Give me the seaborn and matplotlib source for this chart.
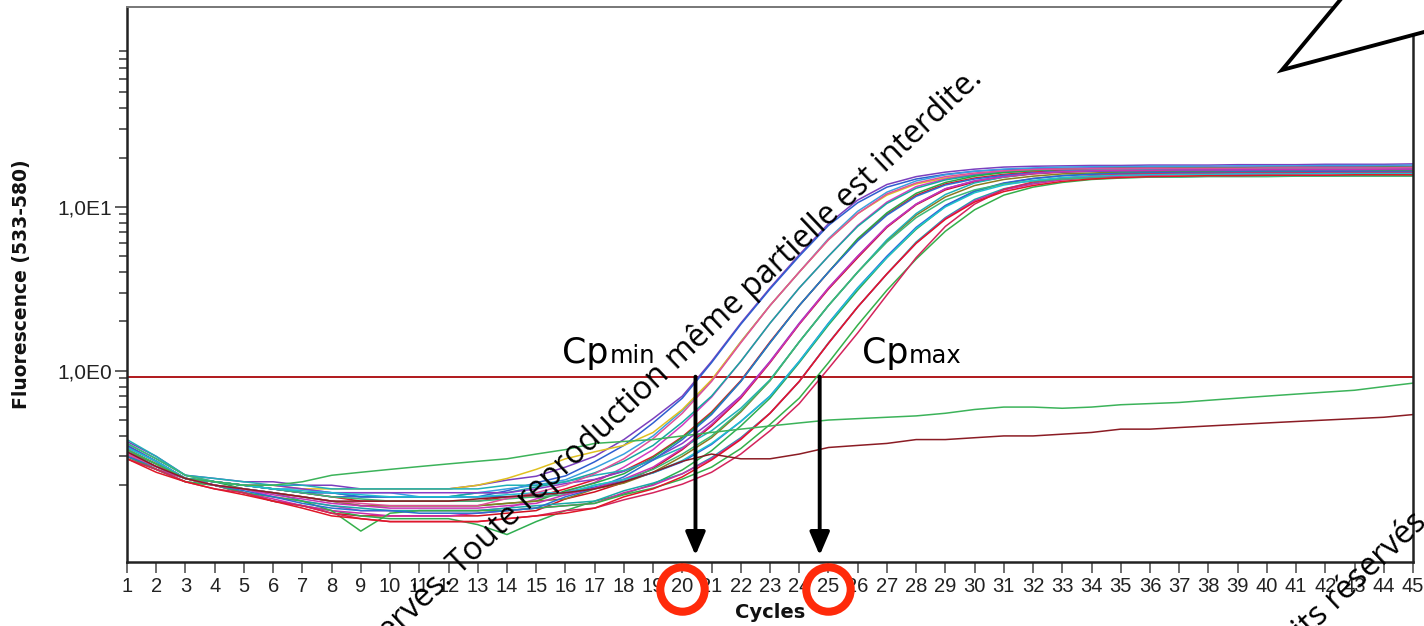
import matplotlib
matplotlib.use("Agg")
import matplotlib.pyplot as plt
import seaborn as sns
import pandas as pd
from matplotlib.ticker import FixedLocator, NullFormatter
from matplotlib.patches import Polygon

# ---------------- data ----------------
cycles = list(range(1, 46))

w01 = [0.37,0.30,0.23,0.22,0.21,0.21,0.20,0.20,0.19,0.19,0.19,0.19,0.20, 0.215,0.227,0.258,0.30,0.38,0.51,0.70, 1.14,1.95,3.2,5.1,7.9,11.0,13.7,15.3,16.3,17.0,17.5, 17.7,17.8, 17.9,17.9,18.0,18.0,18.0,18.1,18.1,18.1,18.2,18.2,18.2,18.3]
w02 = [0.34,0.28,0.22,0.21,0.20,0.19,0.18,0.17,0.17,0.17,0.17,0.17,0.17, 0.185,0.207,0.228,0.278,0.35,0.48,0.68, 1.12,1.92,3.15,5.0,7.7,10.6,13.2,14.8,15.8,16.5,16.9, 17.1,17.2, 17.3,17.3,17.4,17.4,17.4,17.5,17.5,17.5,17.6,17.6,17.6,17.7]
w03 = [0.33,0.27,0.22,0.21,0.20,0.19,0.19,0.18,0.18,0.18,0.17,0.17,0.18, 0.19,0.20,0.216,0.255,0.31,0.40,0.57, 0.87,1.5,2.5,4.0,6.4,9.4,12.3,14.4,15.7,16.5,17.0, 17.3,17.5, 17.6,17.6,17.7,17.7,17.7,17.8,17.8,17.8,17.9,17.9,17.9,18.0]
w04 = [0.30,0.26,0.22,0.21,0.20,0.20,0.19,0.19,0.19,0.19,0.19,0.19, 0.20,0.22,0.25,0.29,0.32,0.35,0.42,0.58, 0.88,1.5,2.5,4.0,6.3,9.1,11.8,13.8,15.0,15.8,16.3, 16.6,16.8, 16.9,16.9,17.0,17.0,17.0,17.1,17.1,17.1,17.1,17.2,17.2,17.2]
w05 = [0.31,0.26,0.22,0.20,0.19,0.17,0.16,0.15,0.14,0.14,0.14,0.14,0.14,0.145, 0.165,0.182,0.208,0.258,0.33,0.465,0.69, 1.14,1.95,3.2,5.0,7.7,10.7,13.3,14.8,15.8,16.5,16.9,17.1, 17.2,17.3,17.3,17.3,17.4,17.4,17.4,17.5,17.5,17.5,17.6,17.6]
w06 = [0.36,0.29,0.23,0.21,0.20,0.19,0.18,0.18,0.17,0.17,0.17,0.17,0.18,0.18, 0.195,0.21,0.238,0.28,0.35,0.485,0.70, 1.14,1.95,3.2,5.0,7.6,10.5,13.0,14.6,15.6,16.3,16.6,16.8, 16.9,17.0,17.0,17.0,17.1,17.1,17.1,17.2,17.2,17.2,17.3,17.3]
w07 = [0.35,0.28,0.22,0.21,0.20,0.19,0.18,0.17,0.16,0.16,0.16,0.16,0.16,0.17,0.17, 0.19,0.216,0.245,0.30,0.395,0.56, 0.87,1.5,2.5,4.0,6.3,9.0,11.8,13.8,15.0,15.8,16.3,16.6, 16.8,16.9,16.9,16.9,17.0,17.0,17.0,17.0,17.1,17.1,17.1,17.1]
w08 = [0.32,0.27,0.22,0.21,0.19,0.18,0.17,0.16,0.15,0.15,0.15,0.15,0.15,0.155,0.16, 0.185,0.206,0.235,0.295,0.39,0.55, 0.86,1.48,2.5,4.0,6.4,9.2,12.1,14.1,15.4,16.2,16.7,17.0, 17.1,17.2,17.2,17.3,17.3,17.3,17.4,17.4,17.4,17.4,17.5,17.5]
w09 = [0.30,0.25,0.22,0.20,0.18,0.16,0.15,0.135,0.13,0.13,0.13,0.13,0.13,0.135,0.14, 0.165,0.182,0.208,0.253,0.33,0.46, 0.68,1.12,1.92,3.15,4.9,7.5,10.3,12.7,14.2,15.2,15.9,16.3, 16.5,16.6,16.7,16.7,16.7,16.8,16.8,16.8,16.9,16.9,16.9,16.9]
w10 = [0.34,0.28,0.22,0.21,0.20,0.20,0.19,0.18,0.18,0.18,0.18,0.18,0.18,0.18,0.19, 0.205,0.217,0.243,0.288,0.36,0.49, 0.70,1.14,1.95,3.2,5.0,7.6,10.4,12.9,14.4,15.4,16.1,16.5, 16.7,16.8,16.9,16.9,17.0,17.0,17.0,17.1,17.1,17.1,17.2,17.2]
w11 = [0.33,0.27,0.22,0.20,0.19,0.18,0.17,0.16,0.15,0.15,0.15,0.15,0.15,0.155,0.16,0.165, 0.19,0.206,0.24,0.30,0.39,0.56, 0.87,1.5,2.5,4.0,6.2,8.9,11.5,13.5,14.7,15.4,15.9, 16.1,16.3,16.4,16.4,16.5,16.5,16.5,16.6,16.6,16.6,16.6,16.7]
w12 = [0.38,0.30,0.23,0.22,0.21,0.20,0.20,0.19,0.19,0.19,0.19,0.19,0.19,0.20,0.20,0.21, 0.23,0.246,0.285,0.34,0.43,0.59, 0.88,1.5,2.5,4.0,6.3,9.1,11.9,14.0,15.2,16.0,16.5, 16.8,16.9,17.0,17.0,17.1,17.1,17.1,17.2,17.2,17.2,17.3,17.3]
w13 = [0.29,0.25,0.21,0.20,0.18,0.16,0.15,0.14,0.13,0.125,0.125,0.125,0.115,0.10,0.12,0.14, 0.16,0.177,0.203,0.248,0.325,0.46, 0.68,1.12,1.9,3.1,4.9,7.3,10.1,12.4,13.9,14.9,15.5, 15.9,16.1,16.2,16.3,16.3,16.4,16.4,16.4,16.5,16.5,16.5,16.5]
w14 = [0.35,0.28,0.22,0.21,0.20,0.19,0.18,0.18,0.17,0.17,0.17,0.17,0.17,0.17,0.175,0.18, 0.195,0.212,0.238,0.278,0.355,0.49, 0.70,1.14,1.95,3.2,5.0,7.5,10.2,12.5,14.0,14.9,15.5, 15.8,16.0,16.1,16.2,16.2,16.3,16.3,16.3,16.4,16.4,16.4,16.4]
w15 = [0.32,0.26,0.22,0.20,0.19,0.18,0.16,0.15,0.145,0.14,0.14,0.14,0.14,0.145,0.15,0.155,0.16, 0.185,0.206,0.235,0.295,0.39, 0.55,0.86,1.48,2.45,3.9,6.1,8.6,11.1,12.9,14.0,14.8, 15.3,15.6,15.8,15.9,16.0,16.0,16.1,16.1,16.1,16.2,16.2,16.2]
w16 = [0.31,0.25,0.22,0.20,0.18,0.165,0.15,0.14,0.135,0.13,0.13,0.13,0.135,0.14,0.145,0.15,0.155, 0.18,0.20,0.235,0.29,0.385, 0.55,0.86,1.47,2.45,3.9,6.0,8.5,10.9,12.7,13.8,14.6, 15.1,15.4,15.6,15.7,15.8,15.8,15.9,15.9,15.9,16.0,16.0,16.0]
w17 = [0.30,0.25,0.21,0.20,0.18,0.17,0.16,0.14,0.105,0.135,0.14,0.14,0.14,0.14,0.145,0.15,0.155, 0.175,0.192,0.218,0.258,0.335,0.47, 0.68,1.12,1.9,3.1,4.8,7.1,9.6,11.8,13.2,14.1, 14.7,15.0,15.2,15.3,15.4,15.4,15.5,15.5,15.5,15.6,15.6,15.6]
w18 = [0.29,0.25,0.21,0.19,0.18,0.16,0.15,0.135,0.125,0.12,0.12,0.12,0.12,0.125,0.13,0.14,0.145, 0.163,0.18,0.203,0.24,0.31,0.43, 0.63,1.03,1.7,2.9,4.9,7.6,10.4,12.8,14.2,15.0, 15.5,15.8,15.9,16.0,16.0,16.1,16.1,16.1,16.2,16.2,16.2,16.2]
w19 = [0.30,0.26,0.22,0.20,0.185,0.17,0.155,0.145,0.14,0.14,0.135,0.135,0.135,0.14,0.145, 0.17,0.191,0.225,0.285,0.38,0.54, 0.86,1.48,2.5,4.0,6.2,8.9,11.6,13.6,14.8,15.6,16.1,16.4, 16.5,16.6,16.6,16.7,16.7,16.7,16.8,16.8,16.8,16.8,16.9,16.9]
w20 = [0.36,0.29,0.23,0.21,0.20,0.19,0.18,0.17,0.165,0.16,0.16,0.16,0.16,0.165,0.17,0.175, 0.20,0.216,0.25,0.31,0.40,0.57, 0.87,1.5,2.5,4.0,6.1,8.6,11.0,12.7,13.8,14.4,14.8, 15.0,15.1,15.2,15.2,15.3,15.3,15.3,15.4,15.4,15.4,15.4,15.4]
w21 = [0.32,0.26,0.22,0.20,0.19,0.175,0.165,0.155,0.15,0.145,0.145,0.145,0.145,0.15,0.155, 0.175,0.192,0.218,0.258,0.335,0.47, 0.69,1.13,1.93,3.2,5.0,7.6,10.4,12.9,14.4,15.3,16.0,16.4, 16.6,16.7,16.7,16.8,16.8,16.8,16.9,16.9,16.9,16.9,17.0,17.0]
w22 = [0.34,0.28,0.22,0.21,0.20,0.19,0.185,0.18,0.175,0.17,0.17,0.17,0.17,0.175,0.18,0.18, 0.20,0.217,0.238,0.283,0.36,0.49, 0.70,1.14,1.94,3.2,4.9,7.4,10.0,12.2,13.6,14.5,15.1, 15.4,15.6,15.7,15.8,15.8,15.9,15.9,15.9,16.0,16.0,16.0,16.0]
w23 = [0.31,0.26,0.22,0.20,0.19,0.18,0.17,0.16,0.155,0.15,0.15,0.15,0.15, 0.166,0.18,0.20,0.235,0.29,0.385,0.55, 0.86,1.48,2.5,4.0,6.3,9.1,12.0,14.0,15.3,16.1,16.6,16.9,17.0, 17.1,17.1,17.2,17.2,17.2,17.2,17.3,17.3,17.3,17.3,17.3,17.4]
w24 = [0.29,0.24,0.21,0.19,0.175,0.16,0.145,0.13,0.125,0.12,0.12,0.12,0.12,0.125,0.13,0.135,0.145, 0.17,0.19,0.225,0.285,0.38, 0.55,0.86,1.47,2.45,3.9,6.0,8.4,10.7,12.4,13.5,14.3, 14.8,15.1,15.3,15.4,15.5,15.5,15.6,15.6,15.6,15.7,15.7,15.7]
ntc_green = [0.33,0.27,0.22,0.21,0.20,0.20,0.21,0.23,0.24,0.25,0.26,0.27,0.28,0.29,0.31,0.33, 0.36,0.37,0.38,0.40,0.42,0.44,0.46,0.48,0.50,0.51,0.52,0.53,0.55,0.58,0.60,0.60,0.59,0.60,0.62,0.63,0.64,0.66,0.68,0.70,0.72,0.74,0.76,0.80,0.84]
ntc_red = [0.32,0.26,0.22,0.20,0.19,0.18,0.17,0.16,0.16,0.16,0.16,0.16,0.165,0.17,0.175,0.18,0.19,0.21,0.24, 0.28,0.31,0.29,0.29,0.31,0.34,0.35,0.36,0.38,0.38,0.39,0.40,0.40,0.41,0.42,0.44,0.44,0.45,0.46,0.47,0.48,0.49,0.50,0.51,0.52,0.54]

threshold = 0.92
cp_min = 20.45
cp_max = 24.7
circled_cycles = [20, 25]
y_major = [1, 10]
y_major_labels = ["1,0E0", "1,0E1"]
y_minor = [0.2, 0.3, 0.4, 0.5, 0.6, 0.7, 0.8, 0.9,
           2, 3, 4, 5, 6, 7, 8, 9,
           20, 30, 40, 50, 60, 70, 80, 90]

wells = {
    "w01": w01, "w02": w02, "w03": w03, "w04": w04, "w05": w05, "w06": w06,
    "w07": w07, "w08": w08, "w09": w09, "w10": w10, "w11": w11, "w12": w12,
    "w13": w13, "w14": w14, "w15": w15, "w16": w16, "w17": w17, "w18": w18,
    "w19": w19, "w20": w20, "w21": w21, "w22": w22, "w23": w23, "w24": w24,
    "ntc_green": ntc_green, "ntc_red": ntc_red,
}
colors = {
    "w01": "#7b3fbf", "w02": "#2f5fd0", "w03": "#3aa0e0", "w04": "#e0c020",
    "w05": "#d43cc0", "w06": "#17a8a0", "w07": "#e3122a", "w08": "#27a844",
    "w09": "#d01020", "w10": "#8a3cc8", "w11": "#8a7a20", "w12": "#20b0b8",
    "w13": "#2fae50", "w14": "#3060d8", "w15": "#1aa8a8", "w16": "#cc2aa8",
    "w17": "#35b04a", "w18": "#d4245c", "w19": "#2a70d0", "w20": "#3cb878",
    "w21": "#c832b4", "w22": "#20c0d0", "w23": "#e0509a", "w24": "#e01828",
    "ntc_green": "#3cb35a", "ntc_red": "#8b1c24",
}
for k, v in wells.items():
    assert len(v) == len(cycles), (k, len(v))

rows = []
for name, vals in wells.items():
    for c, v in zip(cycles, vals):
        rows.append({"cycle": c, "fluo": v, "well": name})
df = pd.DataFrame(rows)

# ---------------- style ----------------
sns.set_style("white")
plt.rcParams["font.family"] = ["DejaVu Sans"]

W, H = 1424, 626
fig = plt.figure(figsize=(W / 100, H / 100), dpi=100)
fig.patch.set_facecolor("white")
ax = fig.add_axes([127 / W, 1 - 562 / H, (1413 - 127) / W, (562 - 7) / H])

sns.lineplot(data=df, x="cycle", y="fluo", hue="well", palette=colors,
             estimator=None, legend=False, linewidth=1.1, ax=ax)
ax.set_yscale("log")
ax.set_xlim(1, 45)
ax.set_ylim(0.068, 166)

ax.axhline(threshold, color="#b0181c", lw=1.4, zorder=1.8)

# ticks
ax.set_xticks(cycles)
ax.set_xticklabels([str(c) for c in cycles], fontfamily="Liberation Sans",
                   fontsize=14.5, color="#222222")
ax.set_yticks(y_major)
ax.set_yticklabels(y_major_labels, fontfamily="Liberation Sans",
                   fontsize=15, color="#222222")
ax.yaxis.set_minor_locator(FixedLocator(y_minor))
ax.yaxis.set_minor_formatter(NullFormatter())
ax.xaxis.set_minor_locator(FixedLocator([]))
ax.tick_params(axis="x", which="major", bottom=True, direction="out",
               length=8, width=1.2, color="#555555", pad=3)
ax.tick_params(axis="y", which="major", left=True, direction="out",
               length=9, width=1.2, color="#444444", pad=2)
ax.tick_params(axis="y", which="minor", left=True, direction="out",
               length=6, width=1.2, color="#444444")

for side in ["left", "bottom", "right"]:
    ax.spines[side].set_color("#222222")
    ax.spines[side].set_linewidth(1.8)
ax.spines["top"].set_color("#777777")
ax.spines["top"].set_linewidth(1.4)

ax.set_xlabel("Cycles", fontsize=14, fontweight="bold", color="#111111")
ax.xaxis.set_label_coords(0.5, -(612 - 562) / 555)
ax.xaxis.label.set_va("center")
ax.set_ylabel("Fluorescence (533-580)", fontsize=13.5, fontweight="bold",
              color="#111111")
ax.yaxis.set_label_coords((22 - 127) / 1286, 0.5)
ax.yaxis.label.set_va("center")

# Cp arrows
for cp in (cp_min, cp_max):
    ax.annotate("", xy=(cp, 0.012), xycoords=("data", "axes fraction"),
                xytext=(cp, threshold), textcoords="data",
                arrowprops=dict(arrowstyle="-|>,head_length=0.7,head_width=0.3",
                                lw=2.8, color="black", mutation_scale=20,
                                shrinkA=0, shrinkB=0),
                zorder=6)

# Cp labels
for cp, sub, dx in ((cp_min, "min", -133), (cp_max, "max", 42)):
    ax.annotate("Cp", xy=(cp, threshold), xytext=(dx, 14),
                textcoords="offset pixels", ha="left", va="baseline",
                fontsize=25, color="black", zorder=7)
    ax.annotate(sub, xy=(cp, threshold), xytext=(dx + 47, 14),
                textcoords="offset pixels", ha="left", va="baseline",
                fontsize=17.5, color="black", zorder=7)

# red circles around tick labels
ax.plot(circled_cycles, [-(589 - 562) / 555] * len(circled_cycles),
        transform=ax.get_xaxis_transform(), linestyle="none", marker="o",
        markersize=32, markerfacecolor="none", markeredgecolor="#ff2a0a",
        markeredgewidth=5.8, clip_on=False, zorder=8)

# speech bubble (top-right)
bubble = [(1365, -30), (1282, 70), (1460, 22.4), (1460, -30)]
poly = Polygon([(x / W, 1 - y / H) for x, y in bubble], closed=True,
               transform=fig.transFigure, facecolor="white", edgecolor="black",
               linewidth=2.8, joinstyle="miter", zorder=20)
fig.add_artist(poly)

# watermark text
wm_font = dict(fontfamily="Open Sans", fontsize=23, color="black",
               rotation=43.4, rotation_mode="anchor", zorder=30)
fig.text(984 / W, 1 - 80 / H,
         "Tous droits réservés. Toute reproduction même partielle est interdite.",
         ha="right", va="baseline", **wm_font)
fig.text(1434 / W, 1 - 518 / H, "Tous droits réservés.",
         ha="right", va="baseline", **wm_font)

fig.savefig("out.png", dpi=100, facecolor="white")
